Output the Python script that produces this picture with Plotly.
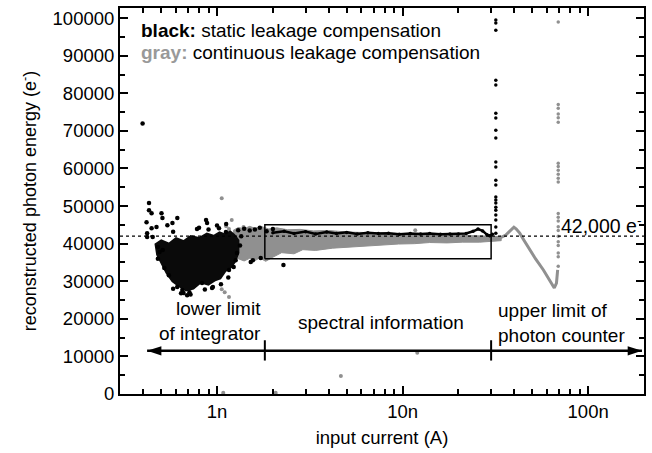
import math
import plotly.graph_objects as go

NA = 1e-9

# ---------------- data (x in nA, y in electrons) ----------------
# gray (continuous leakage compensation): dense band envelope 1.2n..34n
gray_band_x = [1.22, 1.3, 1.4, 1.5, 1.6, 1.75, 1.9, 2.1, 2.4, 2.8, 3.3, 4, 5, 7, 10, 15, 20, 26, 30, 34,
               34, 30, 26, 21, 17.4, 14, 11.6, 9.5, 7.6, 6.2, 5.1, 4.2, 3.4, 2.9, 2.6, 2.23, 2.0, 1.83,
               1.7, 1.6, 1.5, 1.4, 1.3, 1.22]
gray_band_y = [43500, 44300, 44000, 44600, 44100, 44500, 43900, 44200, 43700, 43800, 43400, 43500, 43100,
               42900, 42700, 42500, 42300, 42200, 42000, 41900,
               40800, 40600, 40400, 40400, 40200, 40300, 40000, 39900, 39600, 39400, 39000, 38800, 38200,
               38400, 37300, 37600, 36400, 35300, 36200, 35500, 36100, 35400, 36000, 36800]

# gray isolated points
gray_pts_x = [1.06, 1.2, 1.12, 1.16, 1.39, 11.7, 1.06, 1.10, 1.16, 1.08, 2.07, 4.65, 12.0]
gray_pts_y = [52100, 46300, 44600, 43900, 44400, 43600, 27900, 27100, 25800, 300, 300, 4800, 11000]

# gray curve beyond the photon counter limit
gray_curve_x = [30, 32, 34, 36, 38, 39.8, 41, 42.8, 45, 48.5, 52, 57.4, 61, 65.7, 67.5, 68.5]
gray_curve_y = [41200, 41400, 41700, 42300, 43300, 44400, 43900, 42800, 41000, 38300, 36000, 33000,
                30900, 28200, 29500, 33000]

# gray vertical streak at ~69n
gray_spike_x = [69] * 23
gray_spike_y = [99000, 77000, 76000, 74500, 73500, 72300, 61400, 60500, 59500, 58500, 57400, 56400,
                48000, 47000, 46000, 44500, 43500, 42000, 40500, 39500, 37500, 36500, 34000]

# black (static leakage compensation): dense cloud core envelope 0.46n..1.32n
black_core_x = [0.46, 0.50, 0.55, 0.60, 0.66, 0.72, 0.80, 0.88, 0.96, 1.03, 1.10, 1.18, 1.25, 1.32,
                1.32, 1.26, 1.20, 1.12, 1.05, 0.98, 0.90, 0.82, 0.75, 0.68, 0.62, 0.57, 0.53, 0.50, 0.47]
black_core_y = [40000, 41200, 40300, 41800, 41000, 42300, 41800, 43000, 42400, 43300, 42800, 43600,
                42500, 41000,
                37500, 35000, 33500, 32500, 30500, 30000, 28800, 29400, 27800, 27300, 28500, 29800,
                32000, 34500, 37000]

# black isolated points
black_pts_x = [0.397, 0.43, 0.43, 0.444, 0.502, 0.508, 0.575, 0.611, 0.417, 0.472, 0.54, 0.873, 0.884,
               1.025, 1.117, 0.42, 0.444, 0.69, 0.71, 0.94, 0.51, 0.49, 0.48, 1.23, 1.26, 1.16, 0.55,
               0.61, 0.83, 0.65, 0.42, 0.45, 1.3, 1.4, 1.5, 1.6, 1.7, 1.85, 2.0, 1.56, 1.52, 1.72, 2.28,
               0.58, 0.78, 1.0, 0.64,
               0.58, 0.72, 0.86, 1.05, 1.15, 0.52, 0.48, 0.66, 0.95, 1.28, 1.33, 1.35, 0.8, 0.9, 1.12]
black_pts_y = [72000, 50800, 48900, 48100, 48100, 46800, 45500, 46800, 45700, 44400, 44900, 46300, 45500,
               44100, 43100, 42800, 44100, 26300, 27100, 28200, 38300, 37800, 39100, 33800, 35600, 33000,
               31600, 28500, 29500, 27700, 41800, 41800, 43600, 44000, 43500, 43800, 44200, 43300, 43900,
               35600, 35100, 36200, 34300, 43200, 43900, 44800, 26800,
               28000, 26500, 27800, 29200, 31000, 33500, 36000, 26900, 28500, 37500, 39500, 42000, 44200,
               43800, 45200]

# black trace along 42,000 e- in the spectral range
black_line_x = [2, 2.3, 2.6, 3, 3.4, 3.9, 4.4, 5, 5.7, 6.5, 7.4, 8.4, 9.6, 11, 12.5, 14, 16, 18, 20, 22,
                24, 25.5, 27, 28.5, 29.5, 30.5]
black_line_y = [42900, 43300, 42700, 43200, 42600, 43100, 42700, 43000, 42600, 42900, 42700, 42800,
                42500, 42700, 42600, 42700, 42500, 42600, 42600, 42700, 43300, 43900, 43400, 42400,
                42100, 42500]

# black vertical streak at ~31.8n
black_spike_x = [31.8] * 22
black_spike_y = [42800, 44400, 46300, 47600, 48900, 49700, 50800, 51600, 52400, 55600, 56900, 60400,
                 61700, 68100, 70200, 73400, 74700, 82200, 83500, 96800, 98700, 99500]

# annotation geometry (data units)
ref_level = 42000
lower_limit = 1.81
upper_limit = 30
box_y = [36000, 45000]
arrow_y = 11500
arrow_ends = [0.42, 195]

x_range_nA = [0.3, 200]
y_range = [0, 102700]
major_ticks = [1, 10, 100]
major_text = ["1n", "10n", "100n"]

FONT = "Liberation Sans, Arial, sans-serif"
GRAY = "#909090"

def A(v):
    return [None if t is None else t * NA for t in v]

fig = go.Figure()

fig.add_trace(go.Scatter(x=A(gray_band_x), y=gray_band_y, mode="lines", fill="toself",
                         fillcolor=GRAY, line=dict(color=GRAY, width=1), hoverinfo="skip"))
fig.add_trace(go.Scatter(x=A(gray_pts_x), y=gray_pts_y, mode="markers",
                         marker=dict(color=GRAY, size=4)))
fig.add_trace(go.Scatter(x=A(gray_curve_x), y=gray_curve_y, mode="lines",
                         line=dict(color=GRAY, width=3)))
fig.add_trace(go.Scatter(x=A(gray_spike_x), y=gray_spike_y, mode="markers",
                         marker=dict(color=GRAY, size=3.5)))

fig.add_trace(go.Scatter(x=A(black_core_x), y=black_core_y, mode="lines", fill="toself",
                         fillcolor="#0a0a0a", line=dict(color="black", width=0)))
fig.add_trace(go.Scatter(x=A(black_pts_x), y=black_pts_y, mode="markers",
                         marker=dict(color="black", size=4.5)))
fig.add_trace(go.Scatter(x=A(black_line_x), y=black_line_y, mode="lines+markers",
                         line=dict(color="black", width=2.5), marker=dict(color="black", size=3.5)))
fig.add_trace(go.Scatter(x=A(black_spike_x), y=black_spike_y,
                         mode="markers", marker=dict(color="black", size=3.5)))

# 42,000 reference dotted line
fig.add_trace(go.Scatter(x=A(x_range_nA), y=[ref_level, ref_level], mode="lines",
                         line=dict(color="black", width=1.2, dash="dot")))
# spectral box
fig.add_trace(go.Scatter(x=A([lower_limit, upper_limit, upper_limit, lower_limit, lower_limit]),
                         y=[box_y[0], box_y[0], box_y[1], box_y[1], box_y[0]], mode="lines",
                         line=dict(color="black", width=1.5)))
# range arrow line with arrowheads, and separators
fig.add_trace(go.Scatter(x=A(arrow_ends), y=[arrow_y, arrow_y], mode="lines+markers",
                         line=dict(color="black", width=2.5),
                         marker=dict(symbol="arrow", angle=[-90, 90], size=15, color="black")))
fig.add_trace(go.Scatter(x=A([lower_limit, lower_limit, None, upper_limit, upper_limit]),
                         y=[arrow_y - 2600, arrow_y + 2800, None, arrow_y - 2600, arrow_y + 2800],
                         mode="lines", line=dict(color="black", width=2)))

fs = 19
annotations = [
    dict(x=math.log10(1.76 * NA), y=19400, xref="x", yref="y", text="lower limit<br>of integrator",
         showarrow=False, xanchor="right", yanchor="middle", align="right", font=dict(size=fs)),
    dict(x=math.log10(7.62 * NA), y=18900, xref="x", yref="y", text="spectral information",
         showarrow=False, xanchor="center", yanchor="middle", font=dict(size=fs)),
    dict(x=math.log10(31.8 * NA), y=19000, xref="x", yref="y", text="upper limit of<br>photon counter",
         showarrow=False, xanchor="left", yanchor="middle", align="left", font=dict(size=fs)),
    dict(x=math.log10(69.5 * NA), y=44900, xref="x", yref="y", text="42,000 e<sup>-</sup>",
         showarrow=False, xanchor="left", yanchor="middle", font=dict(size=19.5)),
    dict(x=0.036, y=0.943, xref="paper", yref="paper",
         text="<b>black:</b> static leakage compensation",
         showarrow=False, xanchor="left", yanchor="middle", font=dict(size=fs)),
    dict(x=0.036, y=0.886, xref="paper", yref="paper",
         text="<b><span style='color:#999999'>gray:</span></b> continuous leakage compensation",
         showarrow=False, xanchor="left", yanchor="middle", font=dict(size=fs)),
]

minor_x = [k * 10.0 ** e for e in (-10, -9, -8, -7) for k in range(2, 10)
           if x_range_nA[0] * NA * 0.999 <= k * 10.0 ** e <= x_range_nA[1] * NA * 1.001]

fig.update_layout(
    width=652, height=453,
    margin=dict(l=120, r=6, t=8, b=59),
    plot_bgcolor="white", paper_bgcolor="white",
    showlegend=False,
    font=dict(family=FONT, size=fs, color="black"),
    annotations=annotations,
    xaxis=dict(
        type="log",
        range=[math.log10(x_range_nA[0] * NA), math.log10(x_range_nA[1] * NA)],
        tickvals=[t * NA for t in major_ticks], ticktext=major_text,
        ticks="inside", ticklen=8, tickwidth=1.5, tickcolor="black",
        minor=dict(tickvals=minor_x, ticks="inside", ticklen=5, tickwidth=1.5, tickcolor="black",
                   showgrid=False),
        showline=True, linecolor="black", linewidth=2, mirror="ticks",
        showgrid=False, zeroline=False,
        title=dict(text="input current (A)", font=dict(size=18.5), standoff=10),
        tickfont=dict(size=18.5),
    ),
    yaxis=dict(
        range=y_range,
        tickmode="linear", tick0=0, dtick=10000, tickformat="d",
        ticks="inside", ticklen=8, tickwidth=1.5, tickcolor="black",
        minor=dict(dtick=5000, ticks="inside", ticklen=5, tickwidth=1.5, tickcolor="black",
                   showgrid=False),
        showline=True, linecolor="black", linewidth=2, mirror="ticks",
        showgrid=False, zeroline=False,
        title=dict(text="reconstructed photon energy (e<sup>-</sup>)", font=dict(size=18), standoff=11),
        tickfont=dict(size=18.5),
    ),
)

fig.write_html("out.html")
